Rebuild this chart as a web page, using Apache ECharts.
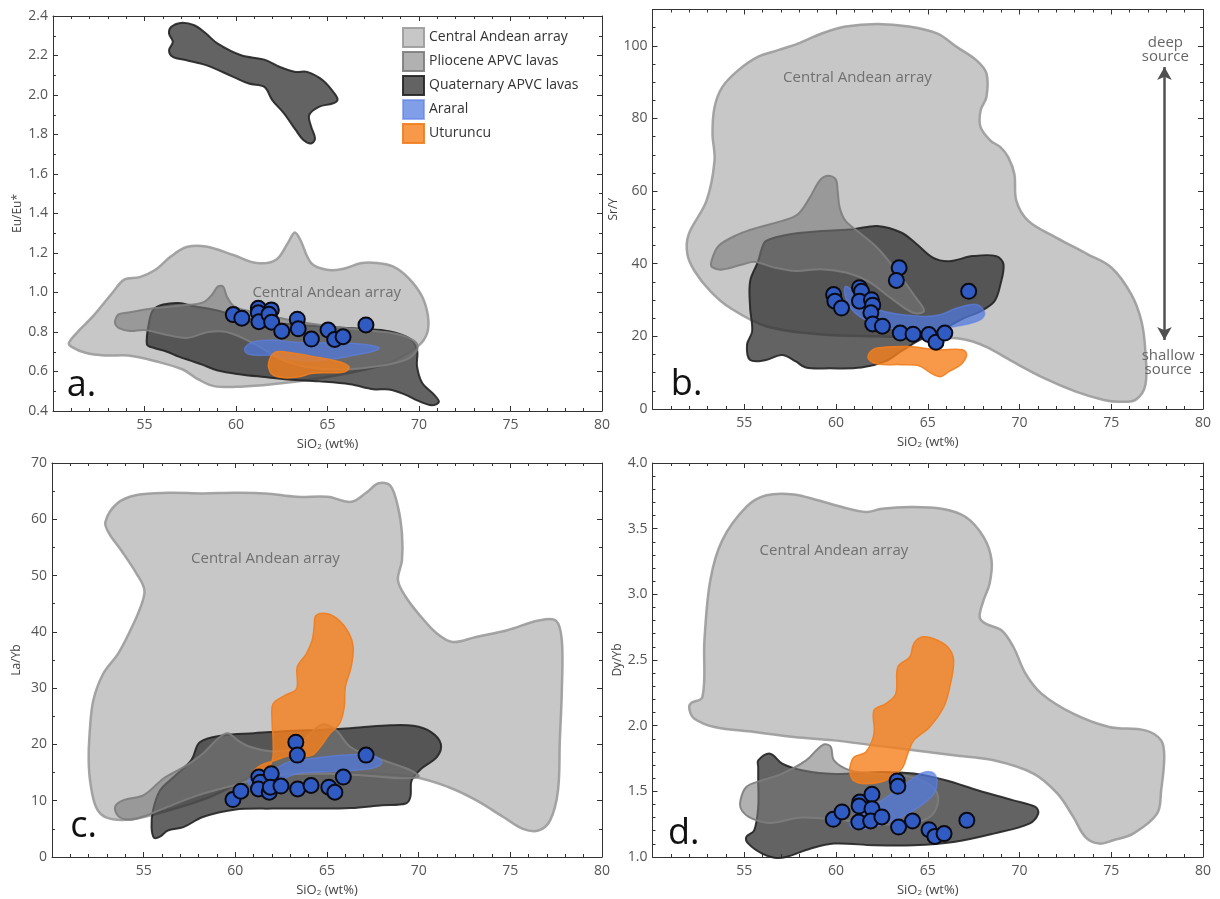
<!DOCTYPE html>
<html><head><meta charset="utf-8">
<script src="https://cdn.jsdelivr.net/npm/echarts/dist/echarts.min.js"></script>
<style>html,body{margin:0;padding:0;background:#fff}#c{width:1220px;height:899px}</style>
</head><body><div id="c"></div>
<script>
// ---------- axis ticks ----------
const xTicks = [55, 60, 65, 70, 75, 80];
const aYTicks = [0.4, 0.6, 0.8, 1.0, 1.2, 1.4, 1.6, 1.8, 2.0, 2.2, 2.4];
const bYTicks = [0, 20, 40, 60, 80, 100];
const cYTicks = [0, 10, 20, 30, 40, 50, 60, 70];
const dYTicks = [1.0, 1.5, 2.0, 2.5, 3.0, 3.5, 4.0];
const legendNames = ['Central Andean array', 'Pliocene APVC lavas', 'Quaternary APVC lavas', 'Araral', 'Uturuncu'];

// ---------- panel a : Eu/Eu* ----------
const aCAA = [[50.87,0.745],[51.34,0.80],[52.19,0.88],[53.26,1.0],[53.89,1.065],[54.74,1.078],[55.6,1.115],[56.45,1.183],[57.3,1.23],[58.36,1.233],[59.85,1.19],[61.13,1.149],[62.19,1.166],[62.83,1.25],[63.21,1.304],[63.51,1.267],[64.11,1.149],[64.96,1.115],[65.81,1.119],[66.87,1.149],[67.72,1.149],[68.57,1.132],[69.43,1.073],[70.17,0.98],[70.49,0.88],[70.45,0.796],[69.96,0.73],[68.36,0.644],[66.23,0.594],[64.11,0.56],[61.98,0.535],[60.28,0.523],[58.79,0.526],[57.94,0.56],[57.09,0.61],[55.6,0.652],[54.11,0.681],[52.83,0.681],[51.77,0.695],[51.02,0.725]];
const aPlio = [[53.4,0.86],[53.6,0.89],[54.2,0.9],[55.5,0.92],[57.1,0.935],[58.2,0.95],[58.7,0.99],[59.0,1.03],[59.3,1.03],[59.5,0.98],[59.9,0.93],[61,0.9],[63,0.86],[65,0.83],[67,0.81],[68.8,0.79],[69.8,0.75],[69.9,0.71],[69.3,0.66],[68,0.63],[66,0.61],[64,0.62],[62.5,0.66],[61,0.74],[59.5,0.8],[58.5,0.8],[57.3,0.77],[56,0.79],[55,0.81],[54.2,0.805],[53.6,0.82],[53.4,0.84]];
const aQuatTop = [[56.45,2.344],[56.98,2.365],[57.72,2.353],[58.36,2.311],[59.0,2.26],[60.28,2.201],[61.55,2.179],[62.4,2.142],[63.26,2.117],[63.89,2.117],[64.74,2.075],[65.38,2.008],[65.55,1.974],[65.28,1.957],[64.53,1.94],[64.0,1.898],[64.11,1.839],[64.32,1.78],[64.11,1.755],[63.68,1.772],[63.26,1.823],[62.62,1.907],[61.98,1.974],[61.55,2.041],[60.7,2.058],[59.85,2.092],[58.36,2.151],[57.3,2.176],[56.55,2.193],[56.34,2.227],[56.55,2.269],[56.34,2.311]];
const aQuat = [[55.13,0.737],[55.28,0.863],[55.49,0.913],[56.02,0.939],[56.87,0.947],[57.72,0.93],[58.79,0.913],[59.85,0.888],[60.91,0.863],[61.98,0.846],[63.26,0.838],[64.53,0.829],[65.81,0.821],[67.09,0.816],[68.36,0.804],[69.43,0.77],[69.89,0.711],[69.89,0.627],[70.17,0.543],[70.81,0.484],[71.09,0.446],[70.7,0.429],[69.96,0.451],[69.21,0.484],[68.36,0.509],[67.51,0.51],[66.23,0.535],[64.53,0.55],[62.83,0.56],[61.55,0.572],[60.28,0.585],[59.0,0.605],[58.15,0.635],[57.51,0.655],[56.87,0.675],[56.23,0.7],[55.49,0.72]];
const aAraral = [[60.49,0.72],[60.91,0.749],[61.98,0.76],[63.26,0.748],[64.53,0.746],[65.81,0.745],[67.09,0.737],[67.83,0.72],[67.51,0.703],[66.23,0.678],[65.17,0.661],[64.11,0.653],[62.83,0.664],[61.98,0.681],[60.91,0.683],[60.53,0.697]];
const aUtur = [[61.98,0.686],[62.3,0.701],[63.26,0.691],[64.32,0.674],[65.28,0.657],[65.91,0.641],[66.19,0.619],[65.91,0.597],[65.17,0.594],[64.11,0.59],[63.47,0.573],[62.62,0.568],[61.98,0.585],[61.77,0.627],[61.83,0.661]];
const aSamples = [[59.85,0.888],[60.32,0.87],[61.22,0.92],[61.22,0.897],[61.25,0.852],[61.93,0.912],[61.8,0.89],[61.95,0.85],[62.5,0.804],[63.35,0.865],[63.4,0.816],[64.12,0.764],[65.03,0.81],[65.39,0.762],[65.85,0.776],[67.1,0.836]];

// ---------- panel b : Sr/Y ----------
const bCAA = [[51.9,42.6],[51.97,48.1],[52.94,57.3],[53.38,68.4],[53.27,75.8],[53.38,83.1],[53.81,88.7],[54.68,93.3],[55.76,97.0],[56.84,98.8],[57.92,100.6],[59.22,103.4],[60.52,105.3],[62.25,106.0],[63.98,105.3],[65.5,103.4],[66.58,99.7],[67.66,96.0],[68.2,92.4],[68.2,85.9],[67.88,82.2],[67.88,77.6],[68.42,73.9],[68.96,72.1],[69.39,69.3],[69.72,64.7],[69.83,57.3],[70.48,51.8],[72.0,47.2],[73.72,42.6],[75.02,38.9],[76.1,31.5],[76.65,24.1],[76.86,15.9],[76.86,6.6],[76.32,2.5],[75.45,2.0],[74.59,2.5],[73.07,4.8],[71.34,8.5],[69.61,13.1],[68.31,16.8],[67.45,18.6],[66.58,19.5],[65.5,19.6],[62.25,20.0],[59.22,20.5],[56.19,22.8],[54.24,27.8],[53.16,32.4],[52.29,38.0]];
const bPlio = [[53.2,40.5],[53.6,44.9],[54.68,48.1],[55.76,50.0],[57.06,51.8],[57.92,53.6],[58.57,58.2],[59.11,62.9],[59.55,64.2],[59.98,63.3],[60.09,60.1],[60.2,55.5],[60.52,51.8],[61.17,49.0],[62.25,44.4],[63.3,38.0],[64.3,31.0],[64.8,27.0],[64.2,26.5],[63.0,30.5],[61.8,35.0],[60.6,37.5],[59.2,38.5],[57.8,38.0],[56.6,39.0],[55.6,40.5],[54.9,39.8],[53.81,38.4],[53.27,39.0]];
const bQuat = [[56.19,46.3],[57.49,48.1],[59.22,49.0],[60.95,49.5],[62.25,50.4],[63.55,48.6],[64.42,45.3],[65.28,41.7],[66.15,40.7],[67.45,42.1],[68.74,42.1],[69.13,39.8],[68.96,34.3],[68.64,29.7],[67.88,26.9],[67.01,25.1],[66.15,22.8],[65.5,21.4],[64.42,18.6],[63.55,15.9],[62.68,13.1],[61.39,11.4],[59.65,11.2],[58.35,11.4],[57.81,13.1],[57.06,14.9],[56.19,13.5],[55.32,13.5],[55.15,17.7],[55.43,21.4],[55.32,27.8],[55.32,35.2],[55.76,40.7],[55.97,44.4]];
const bAraral = [[60.52,33.8],[60.95,32.4],[61.49,29.7],[62.25,27.4],[63.55,26.0],[64.85,25.5],[65.71,26.0],[66.58,27.8],[67.66,28.8],[68.1,26.5],[67.88,24.6],[67.01,23.2],[65.93,22.3],[64.85,21.4],[63.55,21.6],[62.25,23.2],[61.28,25.5],[60.74,28.3],[60.48,31.5]];
const bUtur = [[61.82,15.4],[62.25,16.8],[63.98,17.2],[65.5,16.3],[66.9,16.3],[67.12,14.9],[66.8,12.2],[66.15,10.3],[65.71,8.9],[65.17,9.9],[64.52,11.9],[63.55,12.2],[62.25,12.4],[61.77,13.8]];
const bSamples = [[59.87,31.5],[59.94,29.7],[60.3,27.8],[61.28,33.4],[61.39,32.4],[61.28,29.7],[61.93,30.1],[62.0,28.6],[61.9,26.5],[62.0,23.4],[62.53,22.8],[63.44,38.9],[63.29,35.4],[63.5,20.9],[64.2,20.6],[65.06,20.5],[65.45,18.4],[65.93,20.9],[67.23,32.4]];
const bArrow = [[77.9, 94.2], [77.9, 19.0]];

// ---------- panel c : La/Yb ----------
const cCAA = [[52.91,59.5],[53.55,62.8],[54.62,64.3],[56.32,64.7],[58.23,64.6],[59.94,64.7],[61.64,64.6],[63.34,64.0],[65.04,64.0],[66.32,63.1],[67.17,64.8],[67.81,66.4],[68.45,66.0],[68.87,62.2],[69.09,57.4],[69.09,52.7],[68.87,49.2],[69.3,46.2],[70.15,42.6],[71.0,39.7],[71.85,38.2],[73.13,39.1],[74.83,40.3],[76.53,42.0],[77.49,42.0],[77.81,38.5],[77.81,29.6],[77.7,20.7],[77.6,11.8],[77.17,6.5],[76.53,4.7],[75.68,5.0],[74.62,7.1],[73.13,10.1],[71.64,12.4],[69.72,14.2],[66,15],[62,15.5],[58.5,10.5],[55.5,7.5],[54,6.6],[52.91,7.1],[52.4,8.9],[52.1,13.0],[52.0,17.2],[52.05,21.9],[52.25,27.8],[52.8,32.6],[53.6,36.1],[54.19,39.7],[54.83,44.4],[55.04,47.4],[54.62,50.3],[53.77,54.5],[53.13,57.4]];
const cPlio = [[53.45,9.0],[53.9,10.1],[55.0,11.0],[56.1,14.0],[57.2,16.0],[58.2,18.3],[59.1,21.2],[59.6,22.0],[60.1,20.8],[60.8,19.6],[62.0,18.8],[63.3,19.3],[64.2,22.3],[64.8,23.6],[65.5,22.5],[66.3,19.5],[67.8,17.5],[69.5,15.5],[70.0,14.3],[69.0,14.0],[67,14.5],[65,14.8],[62,14.5],[60,12.8],[58,11.0],[56,8.5],[55,7.2],[54.2,6.6],[53.6,7.3]];
const cQuat = [[58.06,20.4],[59.3,21.6],[61.0,22.0],[62.91,22.4],[64.83,22.6],[66.74,23.0],[68.45,23.4],[69.72,23.3],[70.68,22.2],[71.21,20.1],[71.0,17.8],[70.15,15.7],[69.62,13.6],[69.55,10.7],[69.3,9.5],[68.02,9.2],[66.32,8.7],[64.19,8.6],[62.06,8.6],[59.94,8.4],[58.23,7.1],[57.17,5.3],[56.32,4.7],[55.89,3.6],[55.57,3.4],[55.43,5.3],[55.51,8.3],[55.89,11.8],[56.64,14.2],[57.6,17.2]];
const cAraral = [[60.68,13.6],[61.32,14.9],[62.17,15.7],[62.91,16.9],[64.19,17.5],[65.89,18.1],[67.28,18.2],[67.85,17.5],[67.98,16.6],[67.38,15.7],[65.89,15.3],[64.62,15.1],[63.34,14.8],[62.49,13.7],[61.64,12.7],[60.89,12.6]];
const cUtur = [[64.4,42.9],[65.04,43.2],[65.68,42.0],[66.21,39.7],[66.43,37.3],[66.32,33.8],[66.0,30.2],[65.94,26.6],[65.68,23.7],[65.15,21.9],[64.62,19.5],[64.19,18.1],[63.55,17.9],[62.91,18.0],[62.2,17.2],[61.4,16.3],[60.95,15.0],[61.5,14.9],[62.0,17.0],[62.06,20.7],[62.0,24.3],[62.06,27.2],[62.7,28.7],[63.34,29.9],[63.38,33.8],[63.87,36.1],[64.19,38.5],[64.3,40.9]];
const cSamples = [[59.87,10.2],[60.3,11.7],[61.28,14.2],[61.37,13.3],[61.26,12.1],[61.85,11.5],[61.96,14.8],[61.91,12.4],[62.49,12.6],[63.3,20.4],[63.38,18.1],[63.4,12.1],[64.13,12.7],[65.1,12.4],[65.43,11.5],[65.89,14.2],[67.13,18.1]];

// ---------- panel d : Dy/Yb ----------
const dCAA = [[52.07,2.168],[52.72,2.218],[52.83,2.65],[53.15,3.107],[53.8,3.411],[55.11,3.665],[56.2,3.754],[57.72,3.761],[59.02,3.716],[60.33,3.665],[61.63,3.627],[62.5,3.652],[64.02,3.665],[65.76,3.652],[67.07,3.589],[68.04,3.437],[68.48,3.259],[68.37,3.081],[68.04,2.954],[67.83,2.827],[68.15,2.777],[69.02,2.726],[69.67,2.599],[70.33,2.396],[71.2,2.244],[72.93,2.091],[74.89,1.99],[76.85,1.964],[77.72,1.888],[77.89,1.761],[77.72,1.508],[77.5,1.33],[76.2,1.178],[75.11,1.127],[74.35,1.102],[73.59,1.152],[72.93,1.305],[72.07,1.482],[70.76,1.635],[68.59,1.736],[66.41,1.774],[64.24,1.812],[62.07,1.85],[59.89,1.888],[57.72,1.914],[55.54,1.952],[53.37,1.99],[52.28,2.053],[52.02,2.117]];
const dPlio = [[54.78,1.419],[55.11,1.533],[55.98,1.584],[57.07,1.635],[58.37,1.736],[59.02,1.825],[59.39,1.858],[59.72,1.838],[59.89,1.736],[60.76,1.66],[62.07,1.635],[63.59,1.622],[64.67,1.584],[65.43,1.508],[65.54,1.406],[65.11,1.305],[64.02,1.254],[62.5,1.249],[60.33,1.279],[58.15,1.3],[56.41,1.259],[55.43,1.292],[54.89,1.35]];
const dQuat = [[55.76,1.736],[56.41,1.787],[57.07,1.711],[58.15,1.66],[59.46,1.635],[60.76,1.635],[62.5,1.647],[64.24,1.635],[65.98,1.584],[67.72,1.508],[69.67,1.431],[70.87,1.381],[71.02,1.33],[70.54,1.254],[68.59,1.178],[66.41,1.114],[64.24,1.089],[62.07,1.089],[59.89,1.102],[58.59,1.063],[57.28,1.0],[56.63,0.995],[55.98,1.025],[55.22,1.102],[55.11,1.152],[55.54,1.203],[55.76,1.381],[55.76,1.584],[55.76,1.685]];
const dAraral = [[60.76,1.254],[61.2,1.33],[62.5,1.431],[63.8,1.558],[64.67,1.64],[65.22,1.647],[65.5,1.596],[65.33,1.482],[64.24,1.355],[62.93,1.266],[61.63,1.216],[60.98,1.216]];
const dUtur = [[60.76,1.685],[60.98,1.761],[61.63,1.8],[62.07,1.939],[62.07,2.117],[62.72,2.168],[63.26,2.244],[63.37,2.447],[64.02,2.523],[64.24,2.624],[64.67,2.675],[65.33,2.662],[66.09,2.599],[66.41,2.497],[66.2,2.294],[65.87,2.142],[65.11,1.99],[64.24,1.888],[63.91,1.787],[63.59,1.673],[62.72,1.584],[61.63,1.558],[60.98,1.579],[60.76,1.635]];
const dSamples = [[59.85,1.287],[60.33,1.343],[61.3,1.419],[61.26,1.388],[61.24,1.266],[61.96,1.477],[61.96,1.368],[61.89,1.274],[62.5,1.305],[63.33,1.579],[63.37,1.538],[63.41,1.228],[64.17,1.274],[65.07,1.208],[65.39,1.157],[65.89,1.178],[67.13,1.279]];

// ---------- annotation anchors (data coords) ----------
const caaLabelPos = [[64.96, 0.998], [61.17, 91.2], [61.64, 53.0], [59.89, 3.335]];
const panelLetters = ['a.', 'b.', 'c.', 'd.'];
const panelLetterPos = [[50.75, 0.526], [51.0, 6.6], [51.0, 5.3], [50.85, 1.178]];
const depthLabels = ['deep\nsource', 'shallow\nsource'];
const depthLabelPos = [[77.95, 98.9], [78.1, 12.8]];

// ---------- styles ----------
const FONT = '"Open Sans", "Noto Sans", sans-serif';
const ST = {
  caa:   { fill: 'rgba(178,178,178,0.72)', stroke: 'rgba(155,155,155,0.9)', lw: 2.5 },
  plio:  { fill: 'rgba(120,120,120,0.58)', stroke: 'rgba(125,125,125,0.9)', lw: 2 },
  quat:  { fill: 'rgba(45,45,45,0.74)', stroke: 'rgba(35,35,35,0.9)', lw: 2 },
  ara:   { fill: 'rgba(80,120,225,0.72)', stroke: 'rgba(95,130,230,0.6)', lw: 1.5 },
  utu:   { fill: 'rgba(245,128,28,0.80)', stroke: 'rgba(240,125,30,0.9)', lw: 1.5 }
};

function poly(name, g, pts, st, z) {
  return {
    type: 'custom', name: name, xAxisIndex: g, yAxisIndex: g, z: z, silent: true,
    coordinateSystem: 'cartesian2d',
    itemStyle: { color: st.fill, borderColor: st.stroke, borderWidth: st.lw },
    data: pts,
    renderItem: function (params, api) {
      if (params.dataIndex !== 0) return null;
      const points = pts.map(function (p) { return api.coord(p); });
      return {
        type: 'polygon',
        shape: { points: points, smooth: 0.35 },
        style: { fill: st.fill, stroke: st.stroke, lineWidth: st.lw, lineJoin: 'round' }
      };
    }
  };
}

function texts(g, pos, strs, style, z) {
  return {
    type: 'custom', xAxisIndex: g, yAxisIndex: g, z: z, silent: true,
    data: pos,
    renderItem: function (params, api) {
      const c = api.coord(pos[params.dataIndex]);
      return {
        type: 'text', x: c[0], y: c[1],
        style: Object.assign({ text: strs[params.dataIndex], fontFamily: FONT }, style)
      };
    }
  };
}

function samples(g, pts) {
  return {
    type: 'scatter', xAxisIndex: g, yAxisIndex: g, z: 10, silent: true,
    data: pts, symbol: 'circle', symbolSize: 15,
    itemStyle: { color: '#2f5bc2', borderColor: '#0a0a14', borderWidth: 2, opacity: 1 }
  };
}

const tickColor = '#333';
function xAx(g, pos) {
  return {
    type: 'value', gridIndex: g, position: pos, min: 50, max: 80, interval: 5,
    axisLine: { show: true, onZero: false, lineStyle: { color: tickColor, width: 1 } },
    axisTick: { show: true, inside: true, length: 5, lineStyle: { color: tickColor } },
    minorTick: { show: true, splitNumber: 5, length: 3, lineStyle: { color: tickColor } },
    splitLine: { show: false },
    axisLabel: { show: pos === 'bottom', margin: 7, color: '#555', fontSize: 14, fontFamily: FONT,
      formatter: function (v) { return xTicks.indexOf(v) >= 0 ? String(v) : ''; } },
    name: pos === 'bottom' ? 'SiO{s|2} (wt%)' : '',
    nameLocation: 'middle', nameGap: 26,
    nameTextStyle: { color: '#444', fontSize: 13, fontFamily: FONT,
      rich: { s: { fontSize: 8, fontFamily: FONT, color: '#444', verticalAlign: 'bottom', padding: [6, 0, 0, 0] } } }
  };
}
function yAx(g, pos, min, max, interval, ticks, dec, name, minorSplit) {
  return {
    type: 'value', gridIndex: g, position: pos, min: min, max: max, interval: interval,
    axisLine: { show: true, onZero: false, lineStyle: { color: tickColor, width: 1 } },
    axisTick: { show: true, inside: true, length: 5, lineStyle: { color: tickColor } },
    minorTick: { show: true, splitNumber: minorSplit, length: 3, lineStyle: { color: tickColor } },
    splitLine: { show: false },
    axisLabel: { show: pos === 'left', margin: 5, color: '#555', fontSize: 14, fontFamily: FONT,
      formatter: function (v) {
        for (let i = 0; i < ticks.length; i++) if (Math.abs(ticks[i] - v) < 1e-6) return v.toFixed(dec);
        return '';
      } },
    name: pos === 'left' ? name : '', nameLocation: 'middle', nameRotate: 90, nameGap: pos === 'left' ? 29 : 0,
    nameTextStyle: { color: '#444', fontSize: 12, fontFamily: FONT }
  };
}

const caaTextStyle = { fill: '#707070', fontSize: 15, align: 'center', verticalAlign: 'middle' };
const letterStyle = { fill: '#111', fontSize: 36, align: 'left', verticalAlign: 'middle' };
const depthStyle = { fill: '#666', fontSize: 15, align: 'center', verticalAlign: 'middle', lineHeight: 14 };

const panels = [
  { caa: aCAA, plio: aPlio, quat: [aQuat, aQuatTop], ara: aAraral, utu: aUtur, pts: aSamples },
  { caa: bCAA, plio: bPlio, quat: [bQuat], ara: bAraral, utu: bUtur, pts: bSamples },
  { caa: cCAA, plio: cPlio, quat: [cQuat], ara: cAraral, utu: cUtur, pts: cSamples },
  { caa: dCAA, plio: dPlio, quat: [dQuat], ara: dAraral, utu: dUtur, pts: dSamples }
];

const series = [];
panels.forEach(function (p, g) {
  series.push(poly(legendNames[0], g, p.caa, ST.caa, 1));
  p.quat.forEach(function (q) { series.push(poly(legendNames[2], g, q, ST.quat, 2)); });
  series.push(poly(legendNames[1], g, p.plio, ST.plio, 3));
  series.push(poly(legendNames[3], g, p.ara, ST.ara, 4));
  series.push(poly(legendNames[4], g, p.utu, ST.utu, 5));
  series.push(samples(g, p.pts));
  series.push(texts(g, [caaLabelPos[g]], ['Central Andean array'], caaTextStyle, 11));
  series.push(texts(g, [panelLetterPos[g]], [panelLetters[g]], letterStyle, 11));
});
series.push(texts(1, depthLabelPos, depthLabels, depthStyle, 11));
series.push({
  type: 'line', xAxisIndex: 1, yAxisIndex: 1, data: [], silent: true, z: 11,
  markLine: {
    silent: true, symbol: ['arrow', 'arrow'], symbolSize: [11, 13],
    lineStyle: { color: '#505050', width: 2.5, type: 'solid' },
    label: { show: false },
    data: [[{ coord: bArrow[0] }, { coord: bArrow[1] }]]
  }
});

const legendStyles = [ST.caa, ST.plio, ST.quat, ST.ara, ST.utu];
const option = {
  backgroundColor: '#fff',
  animation: false,
  grid: [
    { left: 53, top: 16, width: 549, height: 395 },
    { left: 652.5, top: 9.5, width: 550.5, height: 399.5 },
    { left: 52, top: 463, width: 550, height: 394 },
    { left: 652.5, top: 463, width: 550.5, height: 394 }
  ],
  xAxis: [xAx(0, 'bottom'), xAx(1, 'bottom'), xAx(2, 'bottom'), xAx(3, 'bottom'),
          xAx(0, 'top'), xAx(1, 'top'), xAx(2, 'top'), xAx(3, 'top')],
  yAxis: [
    yAx(0, 'left', 0.4, 2.4, 0.2, aYTicks, 1, 'Eu/Eu*', 2),
    yAx(1, 'left', 0, 110, 20, bYTicks, 0, 'Sr/Y', 4),
    yAx(2, 'left', 0, 70, 10, cYTicks, 0, 'La/Yb', 2),
    yAx(3, 'left', 1, 4, 0.5, dYTicks, 1, 'Dy/Yb', 5),
    yAx(0, 'right', 0.4, 2.4, 0.2, aYTicks, 1, '', 2),
    yAx(1, 'right', 0, 110, 20, bYTicks, 0, '', 4),
    yAx(2, 'right', 0, 70, 10, cYTicks, 0, '', 2),
    yAx(3, 'right', 1, 4, 0.5, dYTicks, 1, '', 5)
  ],
  legend: {
    left: 402, top: 27, padding: 0, orient: 'vertical', itemWidth: 21, itemHeight: 19, itemGap: 3,
    selectedMode: false,
    textStyle: { color: '#333', fontSize: 14, fontFamily: FONT },
    data: legendNames.map(function (n, i) {
      return { name: n, icon: 'rect', itemStyle: { color: legendStyles[i].fill, borderColor: legendStyles[i].stroke, borderWidth: 2 } };
    })
  },
  series: series
};

const chart = echarts.init(document.getElementById('c'), null, { renderer: 'canvas' });
chart.setOption(option);
</script></body></html>
